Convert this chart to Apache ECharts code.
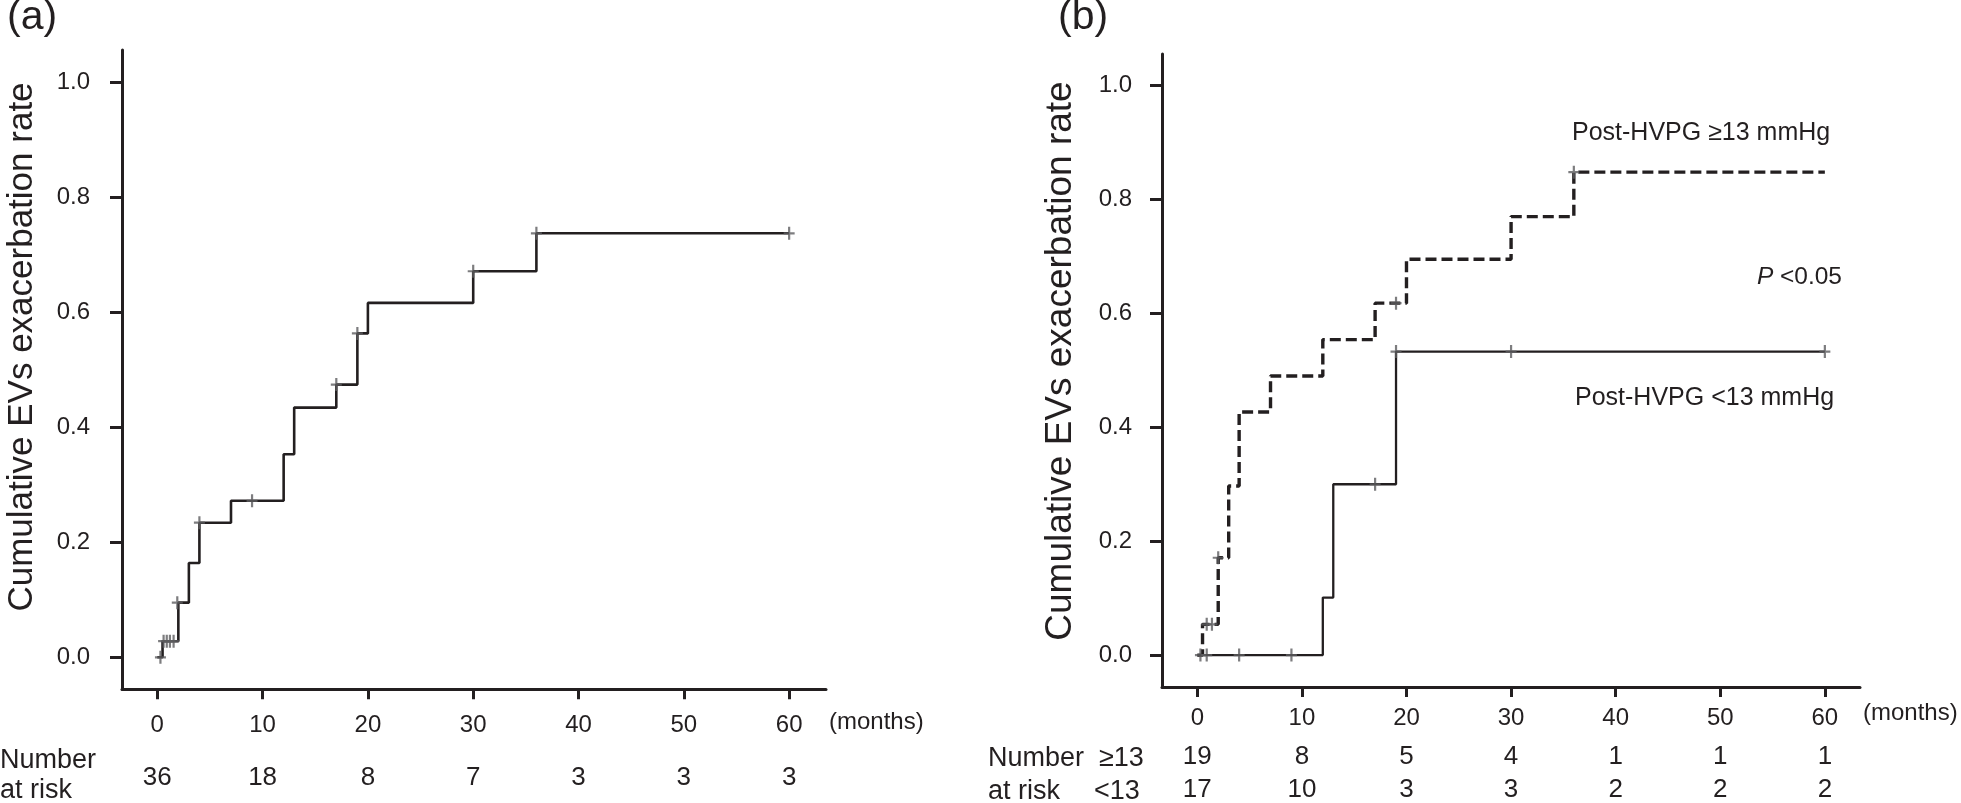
<!DOCTYPE html>
<html>
<head>
<meta charset="utf-8">
<script src="https://cdn.jsdelivr.net/npm/echarts@6/dist/echarts.min.js"></script>
<style>
html,body{margin:0;padding:0;background:#fff;}
#c{width:1961px;height:803px;}
</style>
</head>
<body>
<div id="c"></div>
<script>
// ---- data ----
const monthTicks = [0, 10, 20, 30, 40, 50, 60];
const yTicks = [0, 0.2, 0.4, 0.6, 0.8, 1.0];
const riskA = [36, 18, 8, 7, 3, 3, 3];
const riskHigh = [19, 8, 5, 4, 1, 1, 1];
const riskLow = [17, 10, 3, 3, 2, 2, 2];

// panel (a): overall cumulative curve (time in months, cumulative rate)
const curveA = [[0,0],[0.5,0.028],[2,0.095],[3,0.164],[4,0.234],[7,0.272],[12,0.353],[13,0.434],[17,0.474],[19,0.563],[20,0.616],[30,0.671],[36,0.737],[60,0.737]];
const censorA = [[0.3,0],[0.6,0.028],[0.9,0.028],[1.2,0.028],[1.55,0.028],[1.9,0.095],[4,0.234],[9,0.272],[17,0.474],[19,0.563],[30,0.671],[36,0.737],[60,0.737]];

// panel (b): post-HVPG >=13 (dashed) and <13 (solid)
const curveHigh = [[0,0],[0.5,0.054],[2,0.171],[3,0.297],[4,0.427],[7,0.49],[12,0.554],[17,0.618],[20,0.695],[30,0.77],[36,0.848],[60,0.848]];
const censorHigh = [[0.9,0.054],[1.4,0.054],[2,0.171],[19,0.618],[36,0.848]];
const curveLow = [[0,0],[12,0.101],[13,0.30],[19,0.533],[60,0.533]];
const censorLow = [[0.3,0],[0.9,0],[4,0],[9,0],[17,0.30],[19,0.533],[30,0.533],[60,0.533]];

// ---- style ----
const INK = '#231f20';
const CENSOR = '#5c5d5f';
const FONT = '"Liberation Sans", Arial, Helvetica, sans-serif';
const PLUS = 'path://M4,0H6V5H10V7H6V12H4V7H0V5H4Z';

function xMain(grid, min, max, margin) {
  return {
    type: 'value', gridIndex: grid, min: min, max: max, position: 'bottom',
    axisLine: {show: true, onZero: false, lineStyle: {color: INK, width: 3}},
    axisTick: {show: true, length: 10, inside: false, customValues: monthTicks, lineStyle: {color: INK, width: 3}},
    axisLabel: {show: true, customValues: monthTicks, margin: margin, verticalAlign: 'middle',
      color: INK, fontSize: 24, fontFamily: FONT},
    splitLine: {show: false}
  };
}
function xRisk(grid, min, max, margin, arr) {
  return {
    type: 'value', gridIndex: grid, min: min, max: max, position: 'bottom',
    axisLine: {show: false}, axisTick: {show: false}, splitLine: {show: false},
    axisLabel: {show: true, customValues: monthTicks, margin: margin, verticalAlign: 'middle',
      color: INK, fontSize: 26, fontFamily: FONT,
      formatter: function (v) { return String(arr[Math.round(v / 10)]); }}
  };
}
function yMain(grid, min, max, margin) {
  return {
    type: 'value', gridIndex: grid, min: min, max: max,
    axisLine: {show: true, onZero: false, lineStyle: {color: INK, width: 3}},
    axisTick: {show: true, length: 12, inside: false, customValues: yTicks, lineStyle: {color: INK, width: 3}},
    axisLabel: {show: true, customValues: yTicks, margin: margin, color: INK, fontSize: 24, fontFamily: FONT,
      formatter: function (v) { return v.toFixed(1); }},
    splitLine: {show: false}
  };
}
function txt(x, y, s, size, opts) {
  opts = opts || {};
  return {
    type: 'text', x: x, y: y, rotation: opts.rotation || 0, z: 100,
    style: {
      text: s, x: 0, y: 0, fill: INK,
      font: (opts.italic ? 'italic ' : '') + size + 'px ' + FONT,
      textAlign: opts.align || 'left', align: opts.align || 'left',
      textVerticalAlign: 'middle', verticalAlign: 'middle'
    }
  };
}

const chart = echarts.init(document.getElementById('c'), null, {renderer: 'canvas'});
chart.setOption({
  backgroundColor: '#ffffff',
  animation: false,
  grid: [
    {left: 122, top: 50, width: 704, height: 639.3},
    {left: 1162, top: 54, width: 698, height: 635.3}
  ],
  xAxis: [
    xMain(0, -3.35, 63.5, 36),
    xRisk(0, -3.35, 63.5, 89, riskA),
    xMain(1, -3.375, 63.36, 31),
    xRisk(1, -3.375, 63.36, 69.5, riskHigh),
    xRisk(1, -3.375, 63.36, 103, riskLow)
  ],
  yAxis: [
    yMain(0, -0.0556, 1.0556, 32),
    yMain(1, -0.056, 1.0555, 30)
  ],
  series: [
    {type: 'line', xAxisIndex: 0, yAxisIndex: 0, data: curveA, step: 'end', showSymbol: false,
      lineStyle: {color: INK, width: 2.6, type: 'solid'}, z: 2},
    {type: 'scatter', xAxisIndex: 0, yAxisIndex: 0, data: censorA, symbol: PLUS, symbolSize: [11, 13],
      itemStyle: {color: CENSOR}, z: 3},
    {type: 'line', xAxisIndex: 2, yAxisIndex: 1, data: curveLow, step: 'end', showSymbol: false,
      lineStyle: {color: INK, width: 2.3, type: 'solid'}, z: 2},
    {type: 'line', xAxisIndex: 2, yAxisIndex: 1, data: curveHigh, step: 'end', showSymbol: false,
      lineStyle: {color: INK, width: 3.4, type: [11, 5]}, z: 2},
    {type: 'scatter', xAxisIndex: 2, yAxisIndex: 1, data: censorLow, symbol: PLUS, symbolSize: [11, 13],
      itemStyle: {color: CENSOR}, z: 3},
    {type: 'scatter', xAxisIndex: 2, yAxisIndex: 1, data: censorHigh, symbol: PLUS, symbolSize: [11, 13],
      itemStyle: {color: CENSOR}, z: 3}
  ],
  graphic: [
    txt(7, 18, '(a)', 41),
    txt(1058, 18, '(b)', 41),
    txt(22, 347, 'Cumulative EVs exacerbation rate', 35, {align: 'center', rotation: Math.PI / 2}),
    txt(1061, 361, 'Cumulative EVs exacerbation rate', 37, {align: 'center', rotation: Math.PI / 2}),
    txt(829, 722, '(months)', 24),
    txt(1863, 713, '(months)', 24),
    txt(0, 761, 'Number', 27),
    txt(0, 791, 'at risk', 27),
    txt(988, 759, 'Number', 27),
    txt(1099, 759, '\u226513', 27),
    txt(988, 792, 'at risk', 27),
    txt(1094, 792, '<13', 27),
    txt(1572, 133, 'Post-HVPG \u226513 mmHg', 25),
    txt(1575, 398, 'Post-HVPG <13 mmHg', 25),
    txt(1757, 277, 'P', 24.5, {italic: true}),
    txt(1780, 277, '<0.05', 24.5)
  ]
});
</script>
</body>
</html>
